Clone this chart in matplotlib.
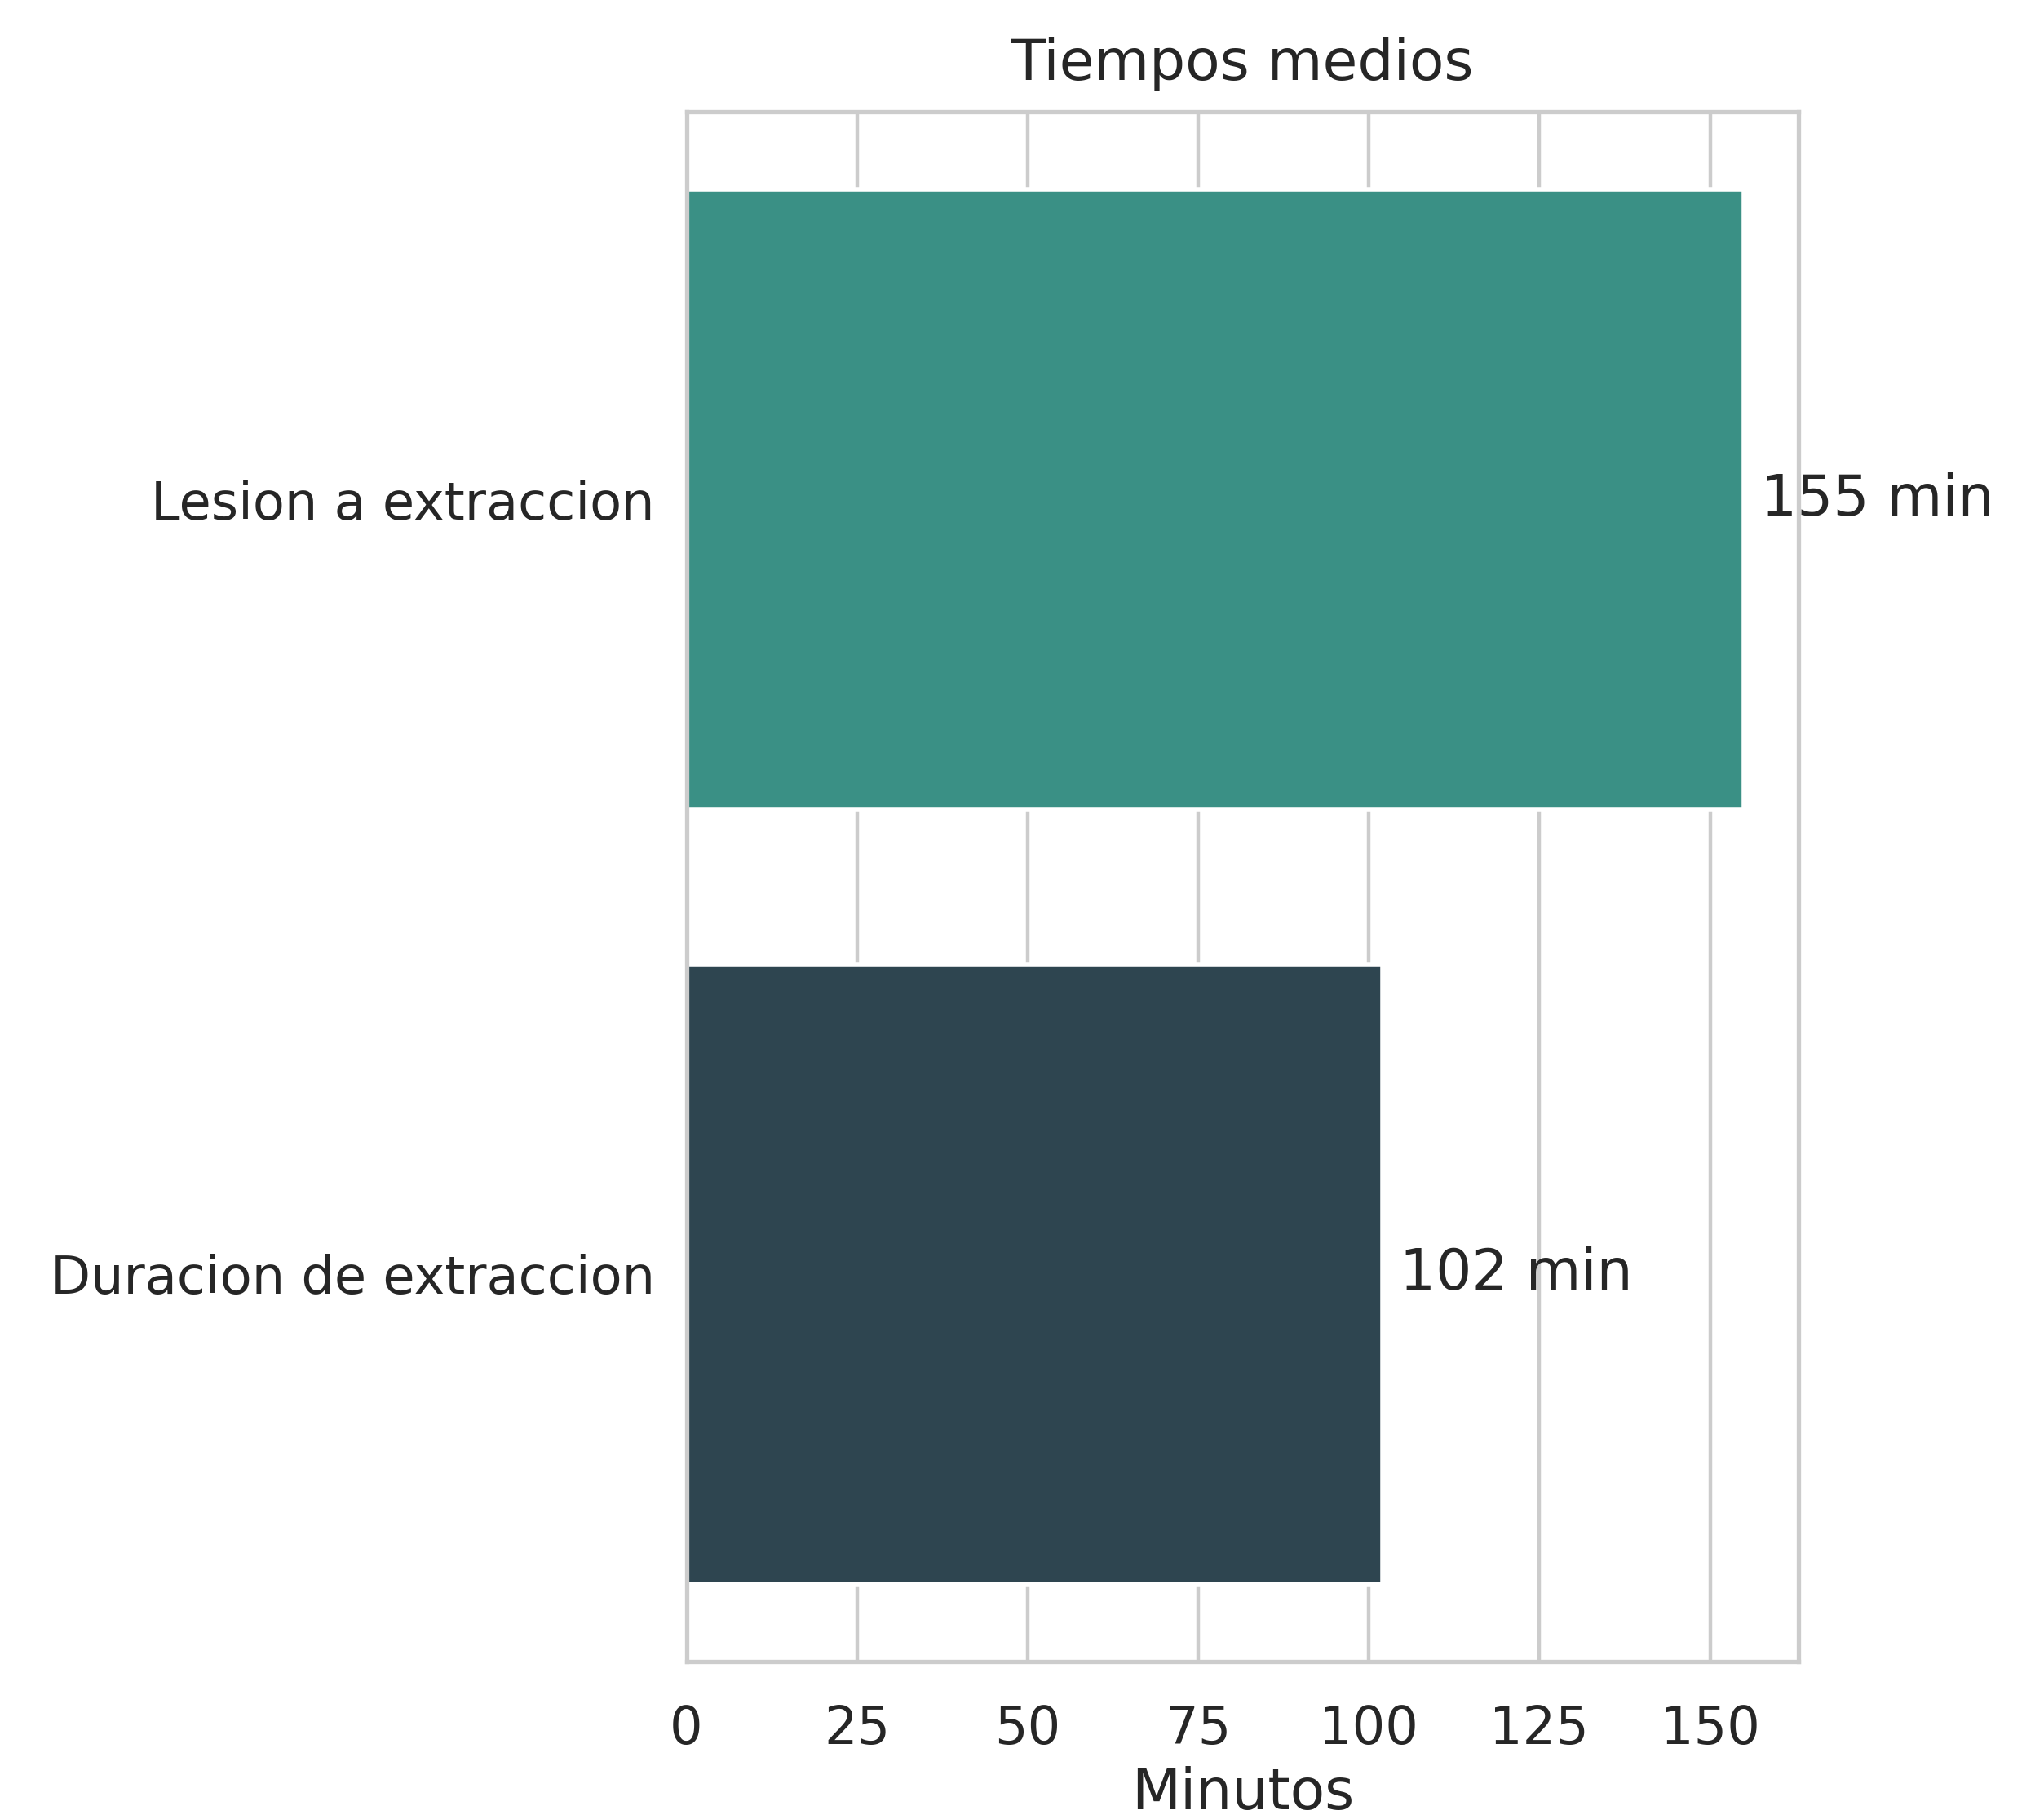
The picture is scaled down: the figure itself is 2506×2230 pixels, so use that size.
import numpy as np
import matplotlib
matplotlib.use('Agg')
import matplotlib.pyplot as plt

categorias = ['Lesion a extraccion', 'Duracion de extraccion']
minutos = [155, 102]
colores = ['#3a9085', '#2e4550']
xticks = [0, 25, 50, 75, 100, 125, 150]

plt.rcParams['font.family'] = ['DejaVu Sans']
plt.rcParams['text.color'] = '#262626'

fig = plt.figure(figsize=(12.53, 11.15), dpi=200)
ax = fig.add_axes([0.3358, 0.0867, 0.880 - 0.3358, 0.9384 - 0.0867])

y = np.arange(len(categorias))
ax.barh(y, minutos, height=0.8, color=colores, edgecolor='white', linewidth=2.0, zorder=2)

for yi, v in zip(y, minutos):
    ax.text(v + 2.5, yi, '%d min' % v, va='center', ha='left', fontsize=25, color='#262626', zorder=1)

ax.set_ylim(1.5, -0.5)
ax.set_xlim(0, 163)
ax.set_yticks(y)
ax.set_yticklabels(categorias)
ax.set_xticks(xticks)
ax.tick_params(axis='both', labelsize=23, colors='#262626', length=0)
ax.tick_params(axis='x', pad=19)
ax.tick_params(axis='y', pad=14)
ax.grid(axis='x', color='#cccccc', linewidth=1.6, zorder=0)
ax.grid(axis='y', visible=False)
ax.set_axisbelow(True)
for s in ax.spines.values():
    s.set_color('#cccccc')
    s.set_linewidth(1.9)

ax.set_title('Tiempos medios', fontsize=25, color='#262626', pad=14)
ax.set_xlabel('Minutos', fontsize=25, color='#262626', labelpad=5)

plt.savefig('out.png', dpi=200)
